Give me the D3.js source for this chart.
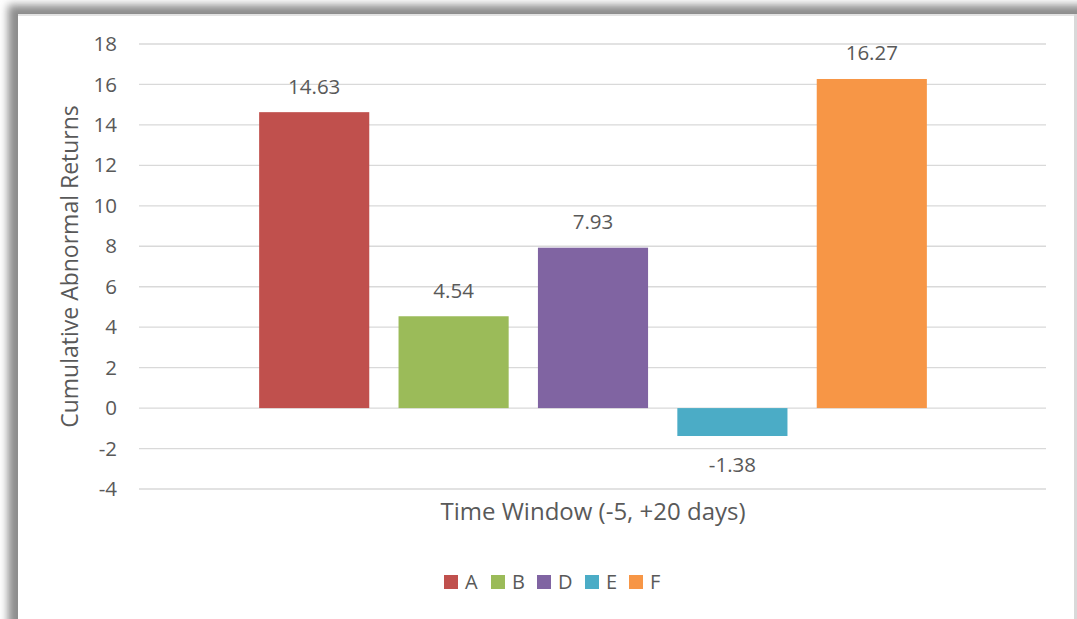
<!DOCTYPE html>
<html>
<head>
<meta charset="utf-8">
<script src="https://cdn.jsdelivr.net/npm/d3@7"></script>
<style>
  html, body { margin: 0; padding: 0; background: #fff; }
  svg { display: block; }
  text { font-family: "Open Sans", "Liberation Sans", sans-serif; fill: #595959; }
</style>
</head>
<body>
<svg id="chart" width="1077" height="619"></svg>
<script>
// Cumulative abnormal returns per group, time window (-5, +20 days)
const seriesNames = ["A", "B", "D", "E", "F"];
const seriesValues = [14.63, 4.54, 7.93, -1.38, 16.27];
const seriesColors = ["#c0504d", "#9bbb59", "#8064a2", "#4bacc6", "#f79646"];
const yTicks = [18, 16, 14, 12, 10, 8, 6, 4, 2, 0, -2, -4];
const categoryLabel = "Time Window (-5, +20 days)";
const yTitle = "Cumulative Abnormal Returns";

const svg = d3.select("#chart");

// Frame with soft shadow along top and left edges
const defs = svg.append("defs");
const blur = defs.append("filter").attr("id", "shadow")
  .attr("x", "-10%").attr("y", "-10%").attr("width", "120%").attr("height", "120%");
blur.append("feGaussianBlur").attr("stdDeviation", 4);

svg.append("rect").attr("x", 8).attr("y", 5).attr("width", 1080).attr("height", 640)
  .attr("fill", "#8c8c8c").attr("filter", "url(#shadow)");
svg.append("rect").attr("x", 18).attr("y", 14).attr("width", 1056).attr("height", 620)
  .attr("fill", "#ffffff");
svg.append("rect").attr("x", 1074).attr("y", 14).attr("width", 3).attr("height", 620)
  .attr("fill", "#d9d9d9");
svg.append("rect").attr("x", 18).attr("y", 14).attr("width", 1056).attr("height", 2)
  .attr("fill", "#e3e3e3");

// Plot area
const plot = { left: 139, right: 1046, top: 44, bottom: 489 };

const y = d3.scaleLinear().domain([-4, 18]).range([plot.bottom, plot.top]);
const x = d3.scaleBand().domain(seriesNames)
  .range([244.5, 941.5]).paddingInner(0.21).paddingOuter(0.105);

// Gridlines
svg.append("g").selectAll("line").data(yTicks).join("line")
  .attr("x1", plot.left).attr("x2", plot.right)
  .attr("y1", d => y(d)).attr("y2", d => y(d))
  .attr("stroke", "#d9d9d9").attr("stroke-width", 1.3);

// Y tick labels via axis generator (plain hyphen for negatives)
const yAxis = d3.axisLeft(y).tickValues(yTicks).tickSize(0).tickPadding(0)
  .tickFormat(d => String(d));
const gy = svg.append("g").attr("transform", `translate(117,0)`).call(yAxis);
gy.select(".domain").remove();
gy.selectAll("text").style("font-size", "20.5px").attr("fill", "#595959")
  .style("font-family", '"Open Sans", "Liberation Sans", sans-serif');

// Bars
const data = seriesNames.map((n, i) => ({ name: n, value: seriesValues[i], color: seriesColors[i] }));
svg.append("g").selectAll("rect").data(data).join("rect")
  .attr("x", d => x(d.name))
  .attr("width", x.bandwidth())
  .attr("y", d => y(Math.max(0, d.value)))
  .attr("height", d => Math.abs(y(d.value) - y(0)))
  .attr("fill", d => d.color);

// Value labels
svg.append("g").selectAll("text").data(data).join("text")
  .attr("x", d => x(d.name) + x.bandwidth() / 2)
  .attr("y", d => d.value >= 0 ? y(d.value) - 18.5 : y(d.value) + 36)
  .attr("text-anchor", "middle")
  .style("font-size", "20.5px")
  .text(d => d.value.toFixed(2));

// Axis titles
svg.append("text")
  .attr("transform", `translate(78,${(plot.top + plot.bottom) / 2}) rotate(-90)`)
  .attr("text-anchor", "middle")
  .style("font-size", "23px")
  .text(yTitle);

svg.append("text")
  .attr("x", 593)
  .attr("y", 520)
  .attr("text-anchor", "middle")
  .style("font-size", "24px")
  .text(categoryLabel);

// Legend
const legendX = [444, 491, 537, 585, 629];
const lg = svg.append("g").selectAll("g").data(data).join("g")
  .attr("transform", (d, i) => `translate(${legendX[i]},575)`);
lg.append("rect").attr("width", 14).attr("height", 14).attr("fill", d => d.color);
lg.append("text").attr("x", 21).attr("y", 14).style("font-size", "20px").text(d => d.name);
</script>
</body>
</html>
